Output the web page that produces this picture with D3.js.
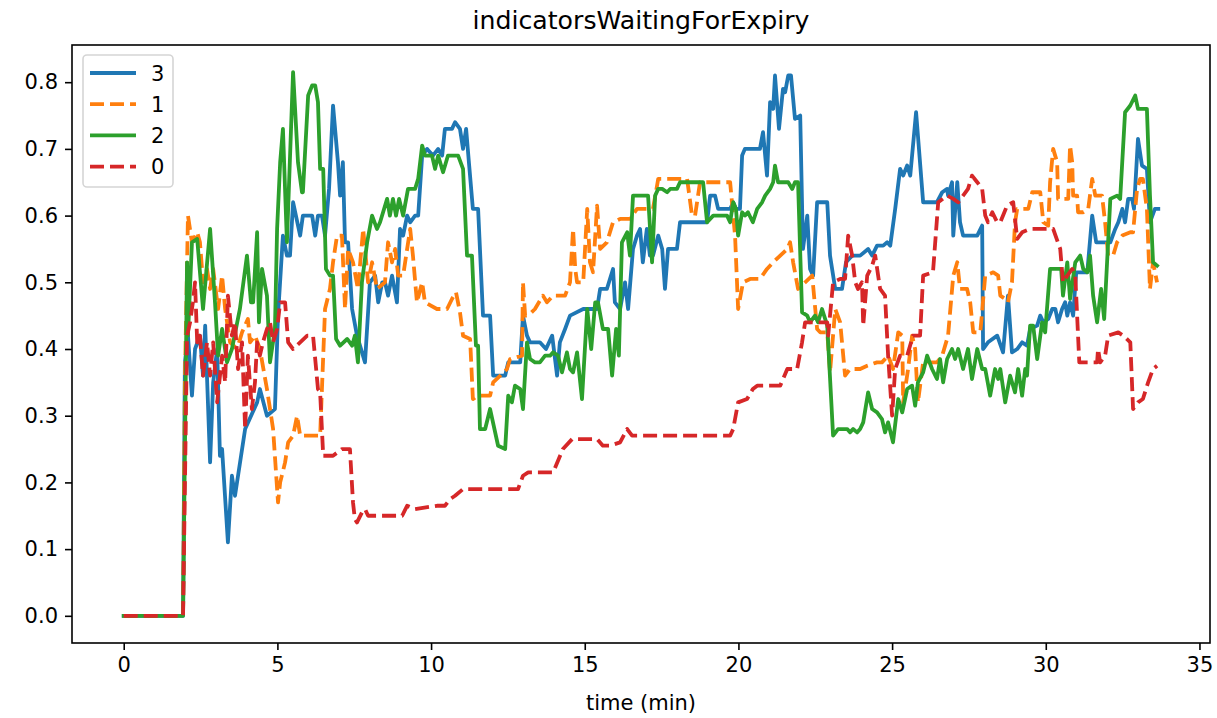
<!DOCTYPE html>
<html>
<head>
<meta charset="utf-8">
<script src="https://cdn.jsdelivr.net/npm/d3@7"></script>
<style>
  html, body { margin: 0; padding: 0; background: #fff; }
  svg { display: block; font-family: "DejaVu Sans", sans-serif; }
</style>
</head>
<body>
<svg id="chart" width="1217" height="718"></svg>
<script>
// time (min) and value pairs per indicator
const series3 = [[0,0],[1.93,0],[1.99,0.38],[2.09,0.42],[2.22,0.33],[2.32,0.40],[2.48,0.42],[2.58,0.36],[2.65,0.435],[2.81,0.23],[2.91,0.35],[3.04,0.40],[3.13,0.24],[3.20,0.25],[3.39,0.11],[3.52,0.21],[3.62,0.18],[3.95,0.28],[4.34,0.32],[4.43,0.34],[4.66,0.30],[4.92,0.31],[5.02,0.45],[5.18,0.57],[5.31,0.54],[5.41,0.54],[5.51,0.62],[5.74,0.57],[5.83,0.60],[6.13,0.60],[6.23,0.57],[6.32,0.60],[6.45,0.60],[6.55,0.57],[6.68,0.64],[6.81,0.765],[6.97,0.68],[7.04,0.63],[7.13,0.68],[7.20,0.56],[7.30,0.56],[7.43,0.46],[7.59,0.42],[7.85,0.38],[8.01,0.5],[8.18,0.51],[8.28,0.47],[8.41,0.5],[8.50,0.5],[8.60,0.48],[8.73,0.51],[8.89,0.47],[8.99,0.58],[9.09,0.57],[9.22,0.60],[9.32,0.59],[9.48,0.60],[9.58,0.60],[9.71,0.69],[9.87,0.70],[10.06,0.69],[10.23,0.70],[10.36,0.69],[10.45,0.73],[10.68,0.73],[10.78,0.74],[10.94,0.73],[11.04,0.70],[11.14,0.73],[11.24,0.675],[11.36,0.61],[11.53,0.61],[11.69,0.45],[11.92,0.45],[12.02,0.36],[12.41,0.36],[12.51,0.38],[12.90,0.38],[12.99,0.45],[13.12,0.42],[13.22,0.41],[13.54,0.41],[13.74,0.40],[13.94,0.42],[14.10,0.36],[14.19,0.41],[14.36,0.43],[14.52,0.45],[14.95,0.46],[15.27,0.46],[15.40,0.46],[15.50,0.49],[15.72,0.49],[15.92,0.52],[15.98,0.47],[16.15,0.46],[16.31,0.50],[16.41,0.46],[16.57,0.55],[16.70,0.57],[16.80,0.58],[16.89,0.53],[17.02,0.58],[17.12,0.54],[17.22,0.54],[17.39,0.57],[17.52,0.55],[17.61,0.49],[17.71,0.55],[17.87,0.55],[18.00,0.55],[18.10,0.59],[18.98,0.59],[19.08,0.63],[19.24,0.63],[19.34,0.61],[19.73,0.61],[19.83,0.62],[19.92,0.61],[20.05,0.61],[20.12,0.69],[20.21,0.70],[20.70,0.70],[20.80,0.725],[20.93,0.66],[21.03,0.77],[21.13,0.76],[21.19,0.81],[21.32,0.73],[21.45,0.79],[21.52,0.785],[21.62,0.81],[21.71,0.81],[21.84,0.745],[22.01,0.75],[22.10,0.55],[22.24,0.60],[22.33,0.52],[22.43,0.51],[22.56,0.62],[22.89,0.62],[22.98,0.54],[23.15,0.49],[23.24,0.49],[23.37,0.49],[23.50,0.53],[23.70,0.54],[23.96,0.54],[24.22,0.55],[24.35,0.54],[24.51,0.555],[24.71,0.555],[24.84,0.56],[24.94,0.555],[25.10,0.61],[25.26,0.67],[25.36,0.66],[25.49,0.675],[25.59,0.66],[25.78,0.755],[26.01,0.62],[26.46,0.62],[26.63,0.635],[26.79,0.64],[26.82,0.63],[26.95,0.65],[26.99,0.57],[27.12,0.65],[27.21,0.59],[27.31,0.57],[27.77,0.57],[27.93,0.585],[27.96,0.40],[28.12,0.41],[28.42,0.42],[28.61,0.395],[28.77,0.48],[28.90,0.395],[29.07,0.40],[29.23,0.41],[29.39,0.405],[29.49,0.43],[29.72,0.435],[29.82,0.45],[29.92,0.44],[30.08,0.445],[30.21,0.46],[30.31,0.46],[30.40,0.44],[30.53,0.46],[30.63,0.47],[30.70,0.45],[30.79,0.47],[30.89,0.45],[30.99,0.515],[31.35,0.515],[31.51,0.60],[31.64,0.56],[32.10,0.56],[32.26,0.58],[32.36,0.59],[32.49,0.61],[32.58,0.59],[32.68,0.625],[32.81,0.625],[32.87,0.61],[33.00,0.715],[33.13,0.675],[33.29,0.67],[33.39,0.59],[33.55,0.61],[33.66,0.61]];

const series1 = [[0,0],[1.93,0],[1.99,0.35],[2.09,0.60],[2.22,0.56],[2.39,0.575],[2.48,0.56],[2.58,0.50],[2.71,0.52],[2.81,0.49],[2.91,0.52],[3.07,0.46],[3.20,0.51],[3.30,0.46],[3.46,0.41],[3.69,0.40],[3.85,0.425],[4.04,0.445],[4.11,0.41],[4.27,0.42],[4.43,0.40],[4.66,0.34],[4.86,0.28],[5.02,0.17],[5.09,0.20],[5.25,0.23],[5.35,0.26],[5.51,0.27],[5.64,0.30],[5.74,0.27],[6.39,0.27],[6.55,0.46],[6.71,0.49],[6.81,0.53],[6.94,0.57],[7.10,0.57],[7.20,0.46],[7.30,0.55],[7.46,0.53],[7.62,0.49],[7.79,0.58],[7.95,0.50],[8.08,0.53],[8.24,0.49],[8.50,0.50],[8.60,0.56],[8.73,0.53],[8.83,0.55],[8.93,0.51],[9.09,0.51],[9.32,0.58],[9.41,0.54],[9.54,0.47],[9.71,0.50],[9.80,0.47],[10.19,0.46],[10.52,0.46],[10.68,0.475],[10.81,0.485],[10.94,0.455],[11.04,0.42],[11.27,0.415],[11.36,0.325],[11.53,0.33],[11.92,0.33],[12.02,0.35],[12.25,0.36],[12.47,0.37],[12.57,0.385],[12.96,0.39],[12.99,0.50],[13.06,0.45],[13.16,0.45],[13.38,0.46],[13.64,0.48],[13.77,0.47],[13.97,0.48],[14.36,0.48],[14.52,0.50],[14.62,0.58],[14.69,0.52],[14.75,0.50],[14.95,0.50],[15.08,0.61],[15.17,0.53],[15.27,0.515],[15.40,0.615],[15.50,0.55],[15.72,0.56],[15.92,0.59],[16.15,0.595],[16.47,0.595],[16.70,0.61],[17.22,0.61],[17.39,0.655],[18.33,0.655],[18.49,0.60],[18.59,0.60],[18.75,0.65],[19.73,0.65],[19.89,0.57],[19.99,0.46],[20.15,0.50],[20.38,0.505],[20.70,0.505],[20.93,0.52],[21.13,0.53],[21.36,0.54],[21.59,0.55],[21.68,0.56],[21.78,0.53],[21.94,0.49],[22.17,0.50],[22.40,0.51],[22.56,0.43],[22.66,0.425],[22.89,0.425],[22.98,0.365],[23.15,0.46],[23.31,0.44],[23.47,0.36],[23.63,0.37],[23.73,0.37],[23.96,0.37],[24.19,0.375],[24.51,0.38],[24.67,0.38],[24.87,0.39],[25.03,0.37],[25.20,0.425],[25.33,0.42],[25.36,0.32],[25.52,0.37],[25.65,0.42],[25.75,0.40],[25.84,0.32],[26.01,0.38],[26.46,0.38],[26.63,0.39],[26.82,0.42],[26.99,0.51],[27.12,0.53],[27.21,0.49],[27.44,0.49],[27.54,0.47],[27.64,0.425],[27.87,0.425],[28.03,0.51],[28.29,0.515],[28.45,0.51],[28.52,0.48],[28.68,0.475],[28.77,0.47],[28.90,0.50],[29.00,0.59],[29.07,0.61],[29.43,0.61],[29.56,0.635],[29.82,0.635],[29.92,0.59],[30.08,0.585],[30.14,0.65],[30.24,0.70],[30.37,0.68],[30.40,0.625],[30.73,0.625],[30.79,0.705],[30.86,0.68],[30.89,0.63],[31.02,0.63],[31.05,0.605],[31.22,0.605],[31.38,0.61],[31.51,0.655],[31.61,0.63],[31.83,0.63],[31.93,0.59],[32.03,0.54],[32.19,0.54],[32.32,0.56],[32.49,0.57],[32.75,0.575],[32.84,0.575],[32.97,0.64],[33.07,0.655],[33.16,0.655],[33.29,0.61],[33.39,0.49],[33.49,0.53],[33.62,0.50]];

const series2 = [[0,0],[1.93,0],[2.06,0.53],[2.09,0.42],[2.22,0.56],[2.39,0.565],[2.58,0.46],[2.81,0.58],[2.97,0.47],[3.07,0.39],[3.20,0.43],[3.36,0.38],[3.52,0.40],[3.78,0.46],[4.01,0.54],[4.14,0.47],[4.21,0.47],[4.34,0.575],[4.40,0.44],[4.50,0.52],[4.66,0.48],[4.76,0.38],[4.92,0.43],[4.99,0.58],[5.09,0.68],[5.18,0.73],[5.31,0.56],[5.51,0.815],[5.67,0.68],[5.80,0.635],[5.83,0.635],[6.00,0.78],[6.13,0.795],[6.23,0.795],[6.32,0.77],[6.39,0.67],[6.49,0.67],[6.58,0.52],[6.71,0.51],[6.81,0.51],[6.91,0.415],[7.04,0.405],[7.27,0.415],[7.43,0.405],[7.52,0.42],[7.62,0.38],[7.75,0.5],[7.92,0.56],[8.08,0.60],[8.24,0.58],[8.34,0.59],[8.57,0.625],[8.66,0.60],[8.76,0.625],[8.86,0.60],[8.96,0.625],[9.09,0.60],[9.25,0.64],[9.48,0.64],[9.58,0.655],[9.71,0.705],[9.80,0.69],[10.03,0.69],[10.13,0.67],[10.23,0.69],[10.39,0.665],[10.55,0.69],[10.88,0.69],[11.04,0.67],[11.17,0.54],[11.33,0.54],[11.46,0.405],[11.53,0.405],[11.59,0.28],[11.76,0.28],[11.92,0.31],[12.18,0.255],[12.41,0.25],[12.51,0.33],[12.63,0.32],[12.73,0.345],[12.90,0.34],[12.99,0.31],[13.12,0.41],[13.22,0.385],[13.38,0.38],[13.54,0.38],[13.71,0.39],[13.87,0.39],[13.97,0.395],[14.13,0.39],[14.26,0.365],[14.42,0.395],[14.52,0.37],[14.62,0.365],[14.75,0.395],[14.91,0.325],[15.08,0.46],[15.21,0.40],[15.34,0.47],[15.43,0.47],[15.59,0.43],[15.76,0.43],[15.89,0.36],[16.02,0.43],[16.11,0.39],[16.21,0.56],[16.38,0.575],[16.47,0.54],[16.57,0.63],[16.73,0.63],[17.06,0.63],[17.19,0.53],[17.29,0.63],[17.39,0.64],[17.52,0.64],[17.68,0.635],[17.78,0.64],[18.00,0.64],[18.10,0.65],[18.85,0.65],[18.98,0.59],[19.18,0.60],[19.63,0.60],[19.73,0.59],[19.83,0.62],[19.92,0.61],[19.99,0.57],[20.12,0.605],[20.21,0.60],[20.31,0.605],[20.47,0.59],[20.61,0.61],[20.77,0.62],[20.87,0.63],[21.03,0.64],[21.13,0.65],[21.19,0.675],[21.29,0.65],[21.45,0.65],[21.62,0.65],[21.75,0.64],[21.84,0.65],[21.94,0.65],[22.07,0.455],[22.24,0.45],[22.33,0.44],[22.49,0.45],[22.59,0.44],[22.72,0.46],[22.89,0.435],[23.08,0.27],[23.24,0.28],[23.54,0.28],[23.63,0.275],[23.73,0.28],[23.86,0.275],[23.96,0.28],[24.06,0.29],[24.22,0.335],[24.35,0.31],[24.51,0.305],[24.67,0.295],[24.77,0.275],[24.87,0.29],[25.03,0.26],[25.20,0.325],[25.33,0.305],[25.49,0.34],[25.65,0.345],[25.75,0.315],[25.84,0.35],[26.01,0.365],[26.14,0.39],[26.30,0.37],[26.46,0.355],[26.56,0.385],[26.66,0.35],[26.79,0.385],[26.95,0.40],[27.05,0.385],[27.15,0.40],[27.31,0.37],[27.47,0.40],[27.60,0.355],[27.77,0.40],[27.93,0.37],[28.03,0.37],[28.19,0.33],[28.35,0.37],[28.45,0.355],[28.52,0.37],[28.68,0.32],[28.84,0.36],[29.00,0.335],[29.10,0.37],[29.23,0.33],[29.33,0.37],[29.39,0.36],[29.49,0.435],[29.59,0.435],[29.72,0.385],[29.88,0.44],[29.98,0.425],[30.14,0.52],[30.37,0.52],[30.50,0.52],[30.56,0.48],[30.70,0.53],[30.79,0.475],[30.96,0.53],[31.12,0.54],[31.22,0.52],[31.35,0.515],[31.44,0.54],[31.54,0.48],[31.67,0.44],[31.80,0.49],[31.90,0.445],[32.10,0.625],[32.32,0.63],[32.42,0.625],[32.58,0.755],[32.75,0.765],[32.91,0.78],[33.00,0.76],[33.29,0.76],[33.39,0.63],[33.49,0.53],[33.62,0.525]];

const series0 = [[0,0],[1.93,0],[2.06,0.42],[2.16,0.44],[2.25,0.47],[2.32,0.50],[2.39,0.41],[2.48,0.42],[2.58,0.36],[2.71,0.41],[2.81,0.36],[2.91,0.41],[3.04,0.32],[3.20,0.39],[3.30,0.35],[3.39,0.48],[3.52,0.42],[3.62,0.44],[3.72,0.37],[3.85,0.41],[3.95,0.28],[4.04,0.39],[4.17,0.31],[4.27,0.35],[4.34,0.41],[4.43,0.39],[4.53,0.41],[4.66,0.43],[4.76,0.44],[4.86,0.41],[4.99,0.43],[5.09,0.47],[5.25,0.47],[5.35,0.41],[5.51,0.40],[5.74,0.41],[5.97,0.42],[6.16,0.42],[6.32,0.34],[6.39,0.335],[6.49,0.24],[6.81,0.24],[7.10,0.25],[7.36,0.25],[7.46,0.17],[7.52,0.145],[7.59,0.14],[7.75,0.155],[7.85,0.16],[7.95,0.15],[8.57,0.15],[9.06,0.15],[9.22,0.165],[9.48,0.16],[10.19,0.165],[10.45,0.165],[10.62,0.175],[10.78,0.18],[11.04,0.19],[11.36,0.19],[12.15,0.19],[12.83,0.19],[12.99,0.21],[13.16,0.215],[13.97,0.215],[14.29,0.25],[14.59,0.265],[15.40,0.265],[15.59,0.255],[15.82,0.255],[16.15,0.26],[16.38,0.28],[16.54,0.27],[19.73,0.27],[19.83,0.28],[19.99,0.32],[20.28,0.325],[20.47,0.34],[20.61,0.345],[21.36,0.345],[21.59,0.37],[21.91,0.37],[22.07,0.41],[22.17,0.44],[22.56,0.44],[22.89,0.44],[22.92,0.42],[23.08,0.50],[23.31,0.505],[23.47,0.505],[23.57,0.57],[23.70,0.54],[23.80,0.50],[23.89,0.49],[24.02,0.50],[24.06,0.435],[24.19,0.51],[24.35,0.525],[24.45,0.54],[24.61,0.49],[24.77,0.48],[24.87,0.39],[25.00,0.30],[25.10,0.37],[25.26,0.39],[25.49,0.39],[25.68,0.42],[25.91,0.42],[26.01,0.51],[26.33,0.515],[26.50,0.62],[26.79,0.63],[26.99,0.625],[27.15,0.62],[27.31,0.63],[27.47,0.64],[27.60,0.66],[27.77,0.65],[27.93,0.64],[28.03,0.60],[28.12,0.59],[28.26,0.605],[28.42,0.59],[28.52,0.59],[28.61,0.60],[28.74,0.615],[28.94,0.62],[29.07,0.565],[29.23,0.575],[29.49,0.58],[29.88,0.58],[30.05,0.58],[30.24,0.58],[30.47,0.55],[30.56,0.50],[30.70,0.51],[30.86,0.52],[30.96,0.51],[31.02,0.45],[31.09,0.38],[31.44,0.38],[31.67,0.38],[31.70,0.40],[31.77,0.38],[31.93,0.39],[32.03,0.42],[32.36,0.425],[32.52,0.42],[32.75,0.41],[32.84,0.31],[33.00,0.32],[33.16,0.325],[33.33,0.35],[33.49,0.37],[33.62,0.375]];

const seriesNames = ["3", "1", "2", "0"];
const seriesData = [series3, series1, series2, series0];
const seriesColors = ["#1f77b4", "#ff7f0e", "#2ca02c", "#d62728"];
const seriesDashed = [false, true, false, true];

const xTicks = [0, 5, 10, 15, 20, 25, 30, 35];
const yTicks = [0.0, 0.1, 0.2, 0.3, 0.4, 0.5, 0.6, 0.7, 0.8];

const titleText = "indicatorsWaitingForExpiry";
const xLabelText = "time (min)";

// layout
const W = 1217, H = 718;
const plot = { left: 72, right: 1210, top: 45, bottom: 643 };
const LW = 3.8;
const DASH = "14,6";
const fontSize = 21;
const titleSize = 25.2;

// axis limits with 5% padding around the data extent
const allPts = seriesData.flat();
const xExt = d3.extent(allPts, d => d[0]);
const yExt = d3.extent(allPts, d => d[1]);
const xPad = (xExt[1] - xExt[0]) * 0.05;
const yPad = (yExt[1] - yExt[0]) * 0.05;

const x = d3.scaleLinear().domain([xExt[0] - xPad, xExt[1] + xPad]).range([plot.left, plot.right]);
const y = d3.scaleLinear().domain([yExt[0] - yPad, yExt[1] + yPad]).range([plot.bottom, plot.top]);

const svg = d3.select("#chart");
svg.append("rect").attr("width", W).attr("height", H).attr("fill", "#fff");

svg.append("defs").append("clipPath").attr("id", "clip")
  .append("rect")
  .attr("x", plot.left).attr("y", plot.top)
  .attr("width", plot.right - plot.left).attr("height", plot.bottom - plot.top);

const line = d3.line().x(d => x(d[0])).y(d => y(d[1]));

const lines = svg.append("g").attr("clip-path", "url(#clip)");
seriesData.forEach((data, i) => {
  lines.append("path")
    .datum(data)
    .attr("d", line)
    .attr("fill", "none")
    .attr("stroke", seriesColors[i])
    .attr("stroke-width", LW)
    .attr("stroke-linejoin", "round")
    .attr("stroke-linecap", seriesDashed[i] ? "butt" : "square")
    .attr("stroke-dasharray", seriesDashed[i] ? DASH : null);
});

// axes
const xAxis = d3.axisBottom(x).tickValues(xTicks).tickFormat(d3.format("d")).tickSize(7).tickPadding(7);
const yAxis = d3.axisLeft(y).tickValues(yTicks).tickFormat(d3.format(".1f")).tickSize(7).tickPadding(7);

const gx = svg.append("g").attr("transform", `translate(0,${plot.bottom})`).call(xAxis);
const gy = svg.append("g").attr("transform", `translate(${plot.left},0)`).call(yAxis);
[gx, gy].forEach(g => {
  g.select(".domain").remove();
  g.selectAll(".tick line").attr("stroke", "#000").attr("stroke-width", 1.6);
  g.selectAll(".tick text")
    .attr("fill", "#000")
    .style("font-family", "DejaVu Sans, sans-serif")
    .style("font-size", fontSize + "px");
});

// frame
svg.append("rect")
  .attr("x", plot.left).attr("y", plot.top)
  .attr("width", plot.right - plot.left).attr("height", plot.bottom - plot.top)
  .attr("fill", "none").attr("stroke", "#000").attr("stroke-width", 1.6);

// title and axis label
svg.append("text")
  .attr("x", (plot.left + plot.right) / 2).attr("y", 29)
  .attr("text-anchor", "middle")
  .style("font-size", titleSize + "px")
  .text(titleText);

svg.append("text")
  .attr("x", (plot.left + plot.right) / 2).attr("y", 710)
  .attr("text-anchor", "middle")
  .style("font-size", fontSize + "px")
  .text(xLabelText);

// legend
const legend = svg.append("g");
legend.append("rect")
  .attr("x", 83).attr("y", 55).attr("width", 90).attr("height", 132)
  .attr("rx", 4).attr("ry", 4)
  .attr("fill", "#fff").attr("fill-opacity", 0.8)
  .attr("stroke", "#d5d5d5").attr("stroke-width", 1.6);

seriesNames.forEach((name, i) => {
  const cy = 73 + i * 31.2;
  legend.append("line")
    .attr("x1", 90).attr("x2", 136).attr("y1", cy).attr("y2", cy)
    .attr("stroke", seriesColors[i])
    .attr("stroke-width", LW)
    .attr("stroke-dasharray", seriesDashed[i] ? DASH : null);
  legend.append("text")
    .attr("x", 151).attr("y", cy + 7.5)
    .style("font-size", fontSize + "px")
    .text(name);
});
</script>
</body>
</html>
